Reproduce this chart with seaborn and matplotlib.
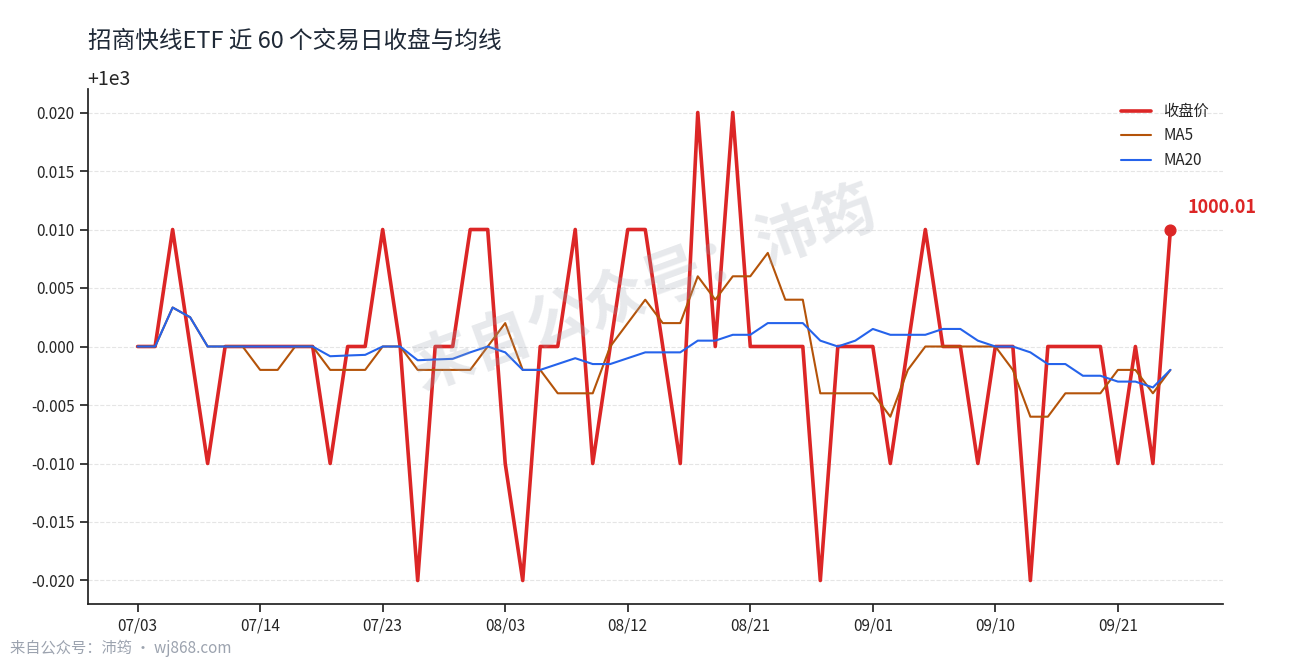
import numpy as np
import pandas as pd
import matplotlib
matplotlib.use("Agg")
import matplotlib.pyplot as plt
import seaborn as sns

sns.set_theme(style="white")
plt.rcParams['font.family'] = ['Noto Sans CJK SC', 'DejaVu Sans']
plt.rcParams['axes.unicode_minus'] = False

tick_labels = ["07/03", "07/14", "07/23", "08/03", "08/12", "08/21", "09/01", "09/10", "09/21"]
close_offsets = [0, 0, 0.01, 0, -0.01, 0, 0, 0, 0, 0,
                 0, -0.01, 0, 0, 0.01, 0, -0.02, 0, 0, 0.01,
                 0.01, -0.01, -0.02, 0, 0, 0.01, -0.01, 0, 0.01, 0.01,
                 0, -0.01, 0.02, 0, 0.02, 0, 0, 0, 0, -0.02,
                 0, 0, 0, -0.01, 0, 0.01, 0, 0, -0.01, 0,
                 0, -0.02, 0, 0, 0, 0, -0.01, 0, -0.01, 0.01]
close = [1000 + v for v in close_offsets]

df = pd.DataFrame({"i": np.arange(len(close)), "close": close})
df["MA5"] = df["close"].rolling(5, min_periods=1).mean()
df["MA20"] = df["close"].rolling(20, min_periods=1).mean()

fig, ax = plt.subplots(figsize=(12.9, 6.6), dpi=100)
fig.subplots_adjust(left=0.068, right=0.948, top=0.865, bottom=0.085)
sns.lineplot(data=df, x="i", y="close", ax=ax, color="#dc2626", lw=2.6, label="收盘价")
sns.lineplot(data=df, x="i", y="MA5", ax=ax, color="#b45309", lw=1.5, label="MA5")
sns.lineplot(data=df, x="i", y="MA20", ax=ax, color="#2563eb", lw=1.5, label="MA20")
last = len(close) - 1
ax.scatter([last], [close[last]], color="#dc2626", s=60, zorder=5)
ax.annotate(f"{close[last]:.2f}", (last, close[last]), xytext=(12, 12), textcoords="offset points",
            color="#dc2626", fontsize=13, fontweight="bold")

ax.set_xticks(np.arange(0, 60, 7))
ax.set_xticklabels(tick_labels, fontsize=11)
ax.tick_params(axis="y", labelsize=11, left=True)
ax.tick_params(axis="x", bottom=True)
ax.set_xlim(-2.85, 62)
ax.set_ylim(1000 - 0.022, 1000 + 0.022)
ax.yaxis.get_offset_text().set_fontsize(14)
ax.set_xlabel(""); ax.set_ylabel("")
ax.grid(axis="y", ls="--", color="#e5e5e5", lw=0.8)
for s in ["top", "right"]:
    ax.spines[s].set_visible(False)
for s in ["left", "bottom"]:
    ax.spines[s].set_color("#222222")
ax.legend(loc="upper right", frameon=False, fontsize=11, bbox_to_anchor=(1.0, 1.0))
ax.set_title("招商快线ETF 近 60 个交易日收盘与均线", loc="left", fontsize=17, color="#1f2937", pad=30)

fig.text(0.5, 0.56, "来自公众号：沛筠", fontsize=44, color="#9ca3af", alpha=0.24,
         rotation=20, ha="center", va="center", fontweight="bold")
fig.text(0.008, 0.01, "来自公众号：沛筠 · wj868.com", fontsize=11, color="#9ca3af")
fig.savefig("out.png", dpi=100)
